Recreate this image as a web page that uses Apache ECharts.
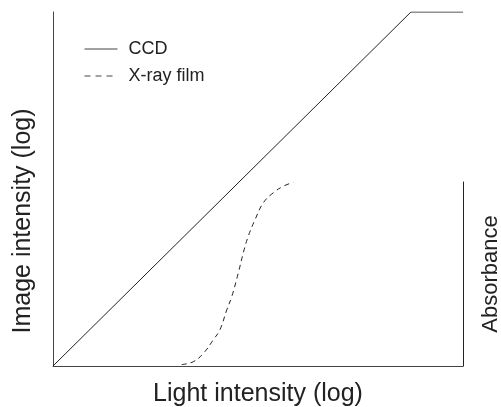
<!DOCTYPE html>
<html>
<head>
<meta charset="utf-8">
<script src="https://cdn.jsdelivr.net/npm/echarts@6/dist/echarts.min.js"></script>
<style>html,body{margin:0;padding:0;background:#fff;}#c{width:501px;height:407px;}</style>
</head>
<body>
<div id="c"></div>
<script>
// Light intensity (log) vs image intensity (log), arbitrary 0-100 units
const ccdX = [0, 87.3, 100];
const ccdY = [0, 100, 100];
const filmX = [31.4, 34.2, 36.7, 39.1, 40.7, 42.4, 43.6, 45.2, 46.4, 47.6, 49.3, 51.3, 53.7, 56.2, 58.6];
const filmY = [0.4, 1.2, 3.6, 7.4, 10.2, 15.9, 19.6, 26.3, 31.9, 36.6, 41.4, 46.1, 48.9, 50.8, 51.9];
const seriesNames = ['CCD', 'X-ray film'];
const axisNames = {x: 'Light intensity (log)', y: 'Image intensity (log)', y2: 'Absorbance'};

const ccd = ccdX.map((x, i) => [x, ccdY[i]]);
const film = filmX.map((x, i) => [x, filmY[i]]);
const font = 'Liberation Sans, Arial, sans-serif';
const chart = echarts.init(document.getElementById('c'), null, {renderer: 'canvas'});
chart.setOption({
  animation: false,
  backgroundColor: '#fff',
  textStyle: {fontFamily: font},
  legend: {
    orient: 'vertical', left: 79, top: 35,
    itemWidth: 33, itemHeight: 14, itemGap: 9,
    itemStyle: {opacity: 0},
    lineStyle: {width: 1, color: '#444'},
    textStyle: {fontSize: 18, color: '#222', fontFamily: font, padding: [0, 0, 0, 6]},
    data: [
      {name: seriesNames[0]},
      {name: seriesNames[1], lineStyle: {type: [6, 5], width: 1, color: '#444'}}
    ]
  },
  grid: [
    {left: 53, right: 38, top: 12, bottom: 41, outerBoundsMode: 'none'},
    {left: 300, right: 38, top: 182, bottom: 41, outerBoundsMode: 'none'}
  ],
  xAxis: [
    {type: 'value', gridIndex: 0, min: 0, max: 100,
     axisLine: {show: true, lineStyle: {color: '#444', width: 1}},
     axisTick: {show: false}, axisLabel: {show: false}, splitLine: {show: false},
     name: axisNames.x, nameLocation: 'middle', nameGap: 16,
     nameTextStyle: {fontSize: 25, color: '#222', fontFamily: font}},
    {type: 'value', gridIndex: 1, min: 0, max: 1, show: false}
  ],
  yAxis: [
    {type: 'value', gridIndex: 0, min: 0, max: 100,
     axisLine: {show: true, lineStyle: {color: '#444', width: 1}},
     axisTick: {show: false}, axisLabel: {show: false}, splitLine: {show: false},
     name: axisNames.y, nameLocation: 'middle', nameGap: 17, nameRotate: 90,
     nameTextStyle: {fontSize: 25, color: '#222', fontFamily: font, padding: [0, 64, 0, 0]}},
    {type: 'value', gridIndex: 1, min: 0, max: 1, position: 'right',
     axisLine: {show: true, onZero: false, lineStyle: {color: '#222', width: 1}},
     axisTick: {show: false}, axisLabel: {show: false}, splitLine: {show: false},
     name: axisNames.y2, nameLocation: 'middle', nameGap: 17, nameRotate: 90,
     nameTextStyle: {fontSize: 22, color: '#222', fontFamily: font}}
  ],
  series: [
    {name: seriesNames[0], type: 'line', xAxisIndex: 0, yAxisIndex: 0, data: ccd,
     symbol: 'none', lineStyle: {color: '#222', width: 1}, itemStyle: {color: '#222'}},
    {name: seriesNames[1], type: 'line', xAxisIndex: 0, yAxisIndex: 0, data: film,
     symbol: 'none', smooth: 0.4,
     lineStyle: {color: '#222', width: 1, type: [5, 4]}, itemStyle: {color: '#222'}}
  ]
});
</script>
</body>
</html>
